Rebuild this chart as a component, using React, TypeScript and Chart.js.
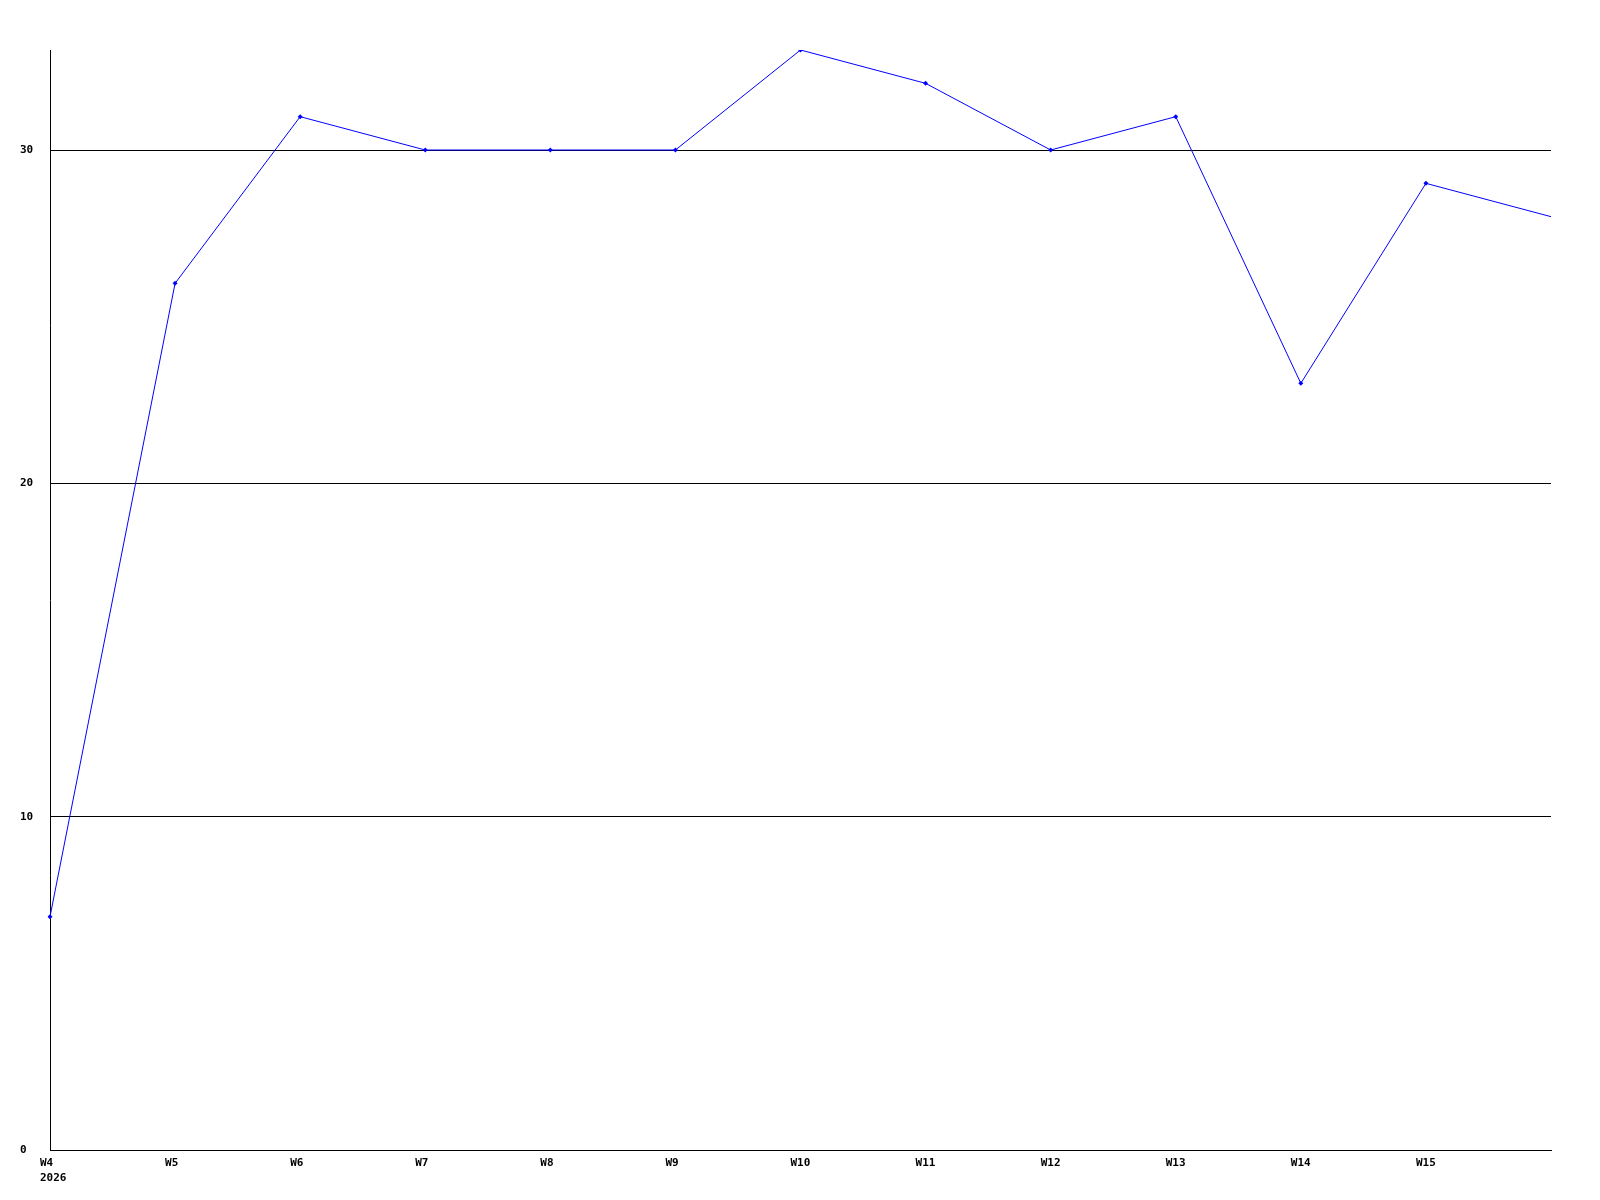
import React, { useEffect, useRef } from "react";
import { Chart, registerables } from "chart.js";

Chart.register(...registerables);

const weeks = ["W4", "W5", "W6", "W7", "W8", "W9", "W10", "W11", "W12", "W13", "W14", "W15", "W16"];
const yearLabel = "2026";
const values = [7, 26, 31, 30, 30, 30, 33, 32, 30, 31, 23, 29, 28];
const yTicks = [0, 10, 20, 30];
const yMax = 33;

export default function App() {
  const ref = useRef<HTMLCanvasElement | null>(null);

  useEffect(() => {
    if (!ref.current) return;
    const font = { family: "'DejaVu Sans Mono', monospace", size: 11, weight: "bold" as const, lineHeight: 1.35 };
    const chart = new Chart(ref.current, {
      type: "line",
      data: {
        labels: weeks,
        datasets: [
          {
            data: values,
            borderColor: "#0000ff",
            backgroundColor: "#0000ff",
            borderWidth: 1,
            pointStyle: "rectRot",
            pointRadius: (ctx: any) => (ctx.dataIndex === weeks.length - 1 ? 0 : 2.5),
            pointBorderWidth: 0,
            pointHoverRadius: 2.5,
            tension: 0,
            fill: false,
          },
        ],
      },
      options: {
        animation: false,
        responsive: false,
        events: [],
        layout: { padding: { top: 50, right: 49, left: 20, bottom: 0 } },
        plugins: { legend: { display: false }, tooltip: { enabled: false }, title: { display: false } },
        scales: {
          x: {
            type: "category",
            offset: false,
            grid: { display: false, drawTicks: false },
            border: { display: true, color: "#000", width: 1 },
            ticks: {
              autoSkip: false,
              maxRotation: 0,
              minRotation: 0,
              align: "start",
              labelOffset: -10,
              padding: 6,
              color: "#000",
              font,
              callback: (_v: any, i: number) => {
                if (i === weeks.length - 1) return "";
                return i === 0 ? [weeks[i], yearLabel] : weeks[i];
              },
            },
            afterFit: (axis: any) => {
              axis.height = 50;
            },
          },
          y: {
            type: "linear",
            min: 0,
            max: yMax,
            z: 1,
            grid: { color: "#000", lineWidth: 1, drawTicks: false },
            border: { display: true, color: "#000", width: 1 },
            ticks: { stepSize: 10, padding: 4, crossAlign: "far", color: "#000", font },
            afterBuildTicks: (axis: any) => {
              axis.ticks = yTicks.map((v) => ({ value: v }));
            },
            afterFit: (axis: any) => {
              axis.width = 30;
            },
          },
        },
      },
    });
    return () => chart.destroy();
  }, []);

  return (
    <div style={{ position: "absolute", left: 0, top: 0, width: 1600, height: 1200, background: "#fff" }}>
      <canvas ref={ref} width={1600} height={1200} />
    </div>
  );
}
